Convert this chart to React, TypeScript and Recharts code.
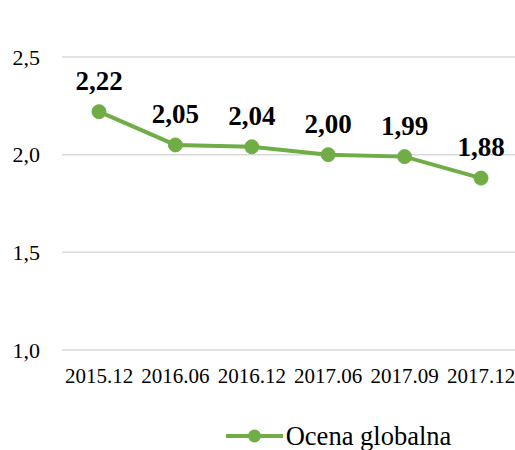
import { CartesianGrid, LabelList, Legend, Line, LineChart, XAxis, YAxis } from 'recharts';

const PERIODS = ['2015.12', '2016.06', '2016.12', '2017.06', '2017.09', '2017.12'];
const OCENA = [2.22, 2.05, 2.04, 2.0, 1.99, 1.88];
const Y_TICKS = [1.0, 1.5, 2.0, 2.5];

const GREEN = '#70ad47';
const FONT = '"Liberation Serif", "Times New Roman", serif';

const data = PERIODS.map((p, i) => ({ period: p, ocena: OCENA[i] }));

const comma = (v: number, digits: number) => v.toFixed(digits).replace('.', ',');

function LegendBox() {
  return (
    <div style={{ height: 28, display: 'flex', justifyContent: 'center', alignItems: 'center', fontFamily: FONT, fontSize: 26.5, color: '#000', paddingLeft: 162 }}>
      <svg width={57} height={16} style={{ marginRight: 3 }}>
        <line x1={0} y1={8} x2={57} y2={8} stroke={GREEN} strokeWidth={4} />
        <circle cx={28.5} cy={8} r={6.5} fill={GREEN} />
      </svg>
      <span>Ocena globalna</span>
    </div>
  );
}

export default function App() {
  return (
    <div style={{ position: 'absolute', left: 0, top: 0, width: 515, height: 450, background: '#fff' }}>
      <LineChart width={515} height={450} data={data} margin={{ top: 57, right: 0, bottom: 0, left: 0 }}>
        <CartesianGrid horizontal vertical={false} stroke="#d9d9d9" strokeWidth={1.5} />
        <XAxis
          dataKey="period"
          axisLine={false}
          tickLine={false}
          tickSize={0}
          tickMargin={18}
          height={72}
          interval={0}
          padding={{ left: 37, right: 34 }}
          tick={{ fontFamily: FONT, fontSize: 21, fill: '#000' }}
        />
        <YAxis
          domain={[1, 2.5]}
          ticks={Y_TICKS}
          tickFormatter={(v: number) => comma(v, 1)}
          axisLine={false}
          tickLine={false}
          tickSize={0}
          tickMargin={22}
          width={62}
          tick={{ fontFamily: FONT, fontSize: 22, fill: '#000' }}
        />
        <Legend verticalAlign="bottom" content={() => <LegendBox />} />
        <Line
          type="linear"
          dataKey="ocena"
          name="Ocena globalna"
          stroke={GREEN}
          strokeWidth={4}
          dot={{ r: 7, fill: GREEN, stroke: GREEN, strokeWidth: 1 }}
          activeDot={false}
          isAnimationActive={false}
        >
          <LabelList
            dataKey="ocena"
            position="top"
            offset={22}
            formatter={(v: number) => comma(v, 2)}
            style={{ fontFamily: FONT, fontSize: 27, fontWeight: 'bold', fill: '#000' }}
          />
        </Line>
      </LineChart>
    </div>
  );
}
